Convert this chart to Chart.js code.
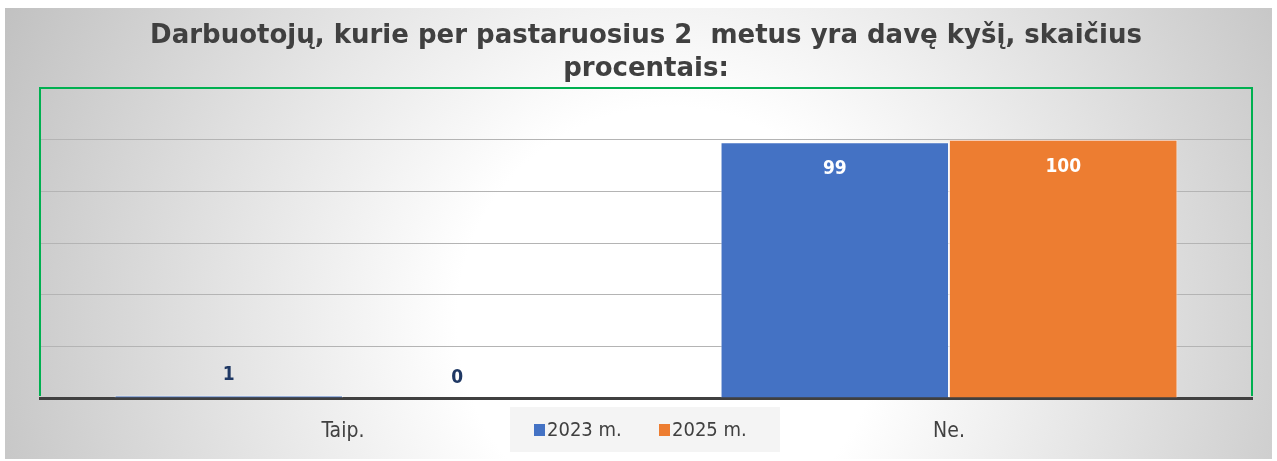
<!DOCTYPE html>
<html>
<head>
<meta charset="utf-8">
<script src="https://cdn.jsdelivr.net/npm/chart.js@4.4.1/dist/chart.umd.min.js"></script>
<style>
  html, body { margin: 0; padding: 0; background: #fff; }
  #wrap { width: 1277px; height: 461px; position: relative; }
</style>
</head>
<body>
<div id="wrap"><canvas id="chart" width="1277" height="461"></canvas></div>
<script>
// chart data
const categories = ['Taip.', 'Ne.'];
const seriesLabels = ['2023 m.', '2025 m.'];
const values2023 = [1, 99];
const values2025 = [0, 100];
const yTicks = [0, 20, 40, 60, 80, 100, 120];

const titleLines = ['Darbuotojų, kurie per pastaruosius 2  metus yra davę kyšį, skaičius', 'procentais:'];

const narrowFont = "'Liberation Sans Narrow', 'DejaVu Sans Condensed', sans-serif";
const boldFont = "'DejaVu Sans', sans-serif";

// Background with radial shading
const backgroundPlugin = {
    id: 'bg',
    beforeDraw(chart) {
        const ctx = chart.ctx;
        ctx.save();
        ctx.fillStyle = '#ffffff';
        ctx.fillRect(0, 0, chart.width, chart.height);
        const g = ctx.createRadialGradient(670, 320, 0, 670, 320, 760);
        g.addColorStop(0, '#ffffff');
        g.addColorStop(0.28, '#ffffff');
        g.addColorStop(1, '#bebebe');
        ctx.fillStyle = g;
        ctx.fillRect(5, 8, chart.width - 10, chart.height - 10);
        ctx.restore();
    }
};

// Green frame round the plot area (bottom side is the axis line)
const framePlugin = {
    id: 'frame',
    beforeDatasetsDraw(chart) {
        const a = chart.chartArea;
        const ctx = chart.ctx;
        ctx.save();
        ctx.strokeStyle = '#00B050';
        ctx.lineWidth = 2;
        ctx.beginPath();
        ctx.moveTo(a.left, a.bottom - 2);
        ctx.lineTo(a.left, a.top);
        ctx.lineTo(a.right, a.top);
        ctx.lineTo(a.right, a.bottom - 2);
        ctx.stroke();
        ctx.restore();
    }
};

// Value labels on the bars
const valueLabelPlugin = {
    id: 'valueLabels',
    afterDatasetsDraw(chart) {
        const ctx = chart.ctx;
        ctx.save();
        ctx.font = 'bold 19px ' + "'DejaVu Sans Condensed', sans-serif";
        ctx.textAlign = 'center';
        ctx.textBaseline = 'middle';
        chart.data.datasets.forEach((ds, i) => {
            const meta = chart.getDatasetMeta(i);
            meta.data.forEach((bar, j) => {
                const v = ds.data[j];
                if (v > 50) {
                    ctx.fillStyle = '#ffffff';
                    ctx.fillText(v, bar.x, bar.y + 27);
                } else {
                    ctx.fillStyle = '#1F3864';
                    ctx.fillText(v, bar.x, bar.y - 20);
                }
            });
        });
        ctx.restore();
    }
};

// Legend box sitting between the category labels
const legendPlugin = {
    id: 'boxLegend',
    afterDraw(chart) {
        const ctx = chart.ctx;
        ctx.save();
        ctx.fillStyle = 'rgba(242,242,242,0.85)';
        ctx.fillRect(510, 407, 270, 45);
        const xs = [534, 659];
        ctx.font = '20px ' + narrowFont;
        ctx.textBaseline = 'middle';
        ctx.textAlign = 'left';
        chart.data.datasets.forEach((ds, i) => {
            ctx.fillStyle = ds.backgroundColor;
            ctx.fillRect(xs[i], 424, 11, 12);
            ctx.fillStyle = '#404040';
            ctx.fillText(ds.label, xs[i] + 13, 431);
        });
        ctx.restore();
    }
};

const ctx = document.getElementById('chart').getContext('2d');
new Chart(ctx, {
    type: 'bar',
    data: {
        labels: categories,
        datasets: [{
            label: seriesLabels[0],
            data: values2023,
            backgroundColor: '#4472C4',
            borderColor: 'rgba(255,255,255,0.6)',
            borderWidth: 1
        }, {
            label: seriesLabels[1],
            data: values2025,
            backgroundColor: '#ED7D31',
            borderColor: 'rgba(255,230,220,0.8)',
            borderWidth: 1
        }]
    },
    options: {
        responsive: false,
        animation: false,
        layout: { padding: { left: 40, right: 25, top: 8, bottom: 0 } },
        datasets: {
            bar: { categoryPercentage: 0.754, barPercentage: 1 }
        },
        plugins: {
            legend: { display: false },
            tooltip: { enabled: false },
            title: {
                display: true,
                text: titleLines,
                color: '#404040',
                font: { family: boldFont, size: 26, weight: 'bold', lineHeight: 1.27 },
                padding: { top: 12, bottom: 2 }
            }
        },
        scales: {
            x: {
                grid: { display: false, drawTicks: false },
                border: { display: true, color: '#404040', width: 3 },
                ticks: {
                    color: '#404040',
                    font: { family: narrowFont, size: 21 },
                    padding: 21
                },
                afterFit(scale) { scale.height = 63; }
            },
            y: {
                min: 0,
                max: 120,
                afterBuildTicks(scale) { scale.ticks = yTicks.map(v => ({ value: v })); },
                grid: {
                    drawTicks: false,
                    lineWidth: 1,
                    color: c => (c.tick.value === 0 || c.tick.value === 120) ? 'rgba(0,0,0,0)' : '#b4b4b4'
                },
                border: { display: false },
                ticks: { display: false },
                afterFit(scale) { scale.width = 0; }
            }
        }
    },
    plugins: [backgroundPlugin, framePlugin, valueLabelPlugin, legendPlugin]
});
</script>
</body>
</html>
